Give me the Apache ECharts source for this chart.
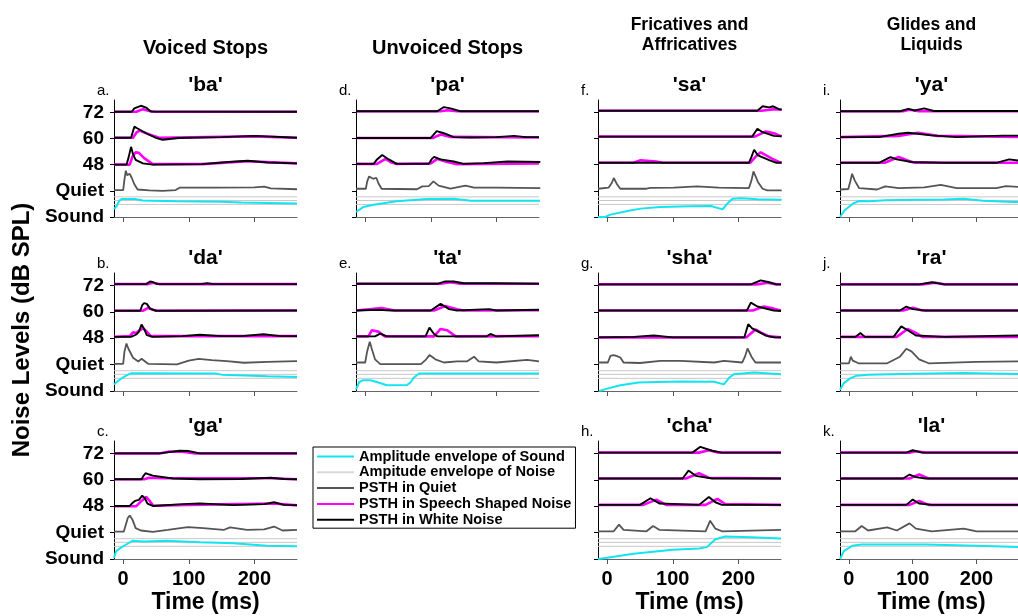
<!DOCTYPE html>
<html><head><meta charset="utf-8">
<script src="https://cdn.jsdelivr.net/npm/echarts@6/dist/echarts.min.js"></script>
<style>html,body{margin:0;padding:0;background:#fff}#c{width:1018px;height:616px}</style>
</head><body><div id="c"></div>
<script>
// ---------- tick labels / constants ----------
const yTickValues = [0, 1, 2, 3, 4];
const yTickLabels = ['Sound', 'Quiet', '48', '60', '72'];
const xTickValues = [0, 100, 200];
const noiseLevels = [0.48, 0.63, 0.77];

// ---------- data: [time ms, value above the trace's level] ----------
// 'ba'
const ba_snd = [[-14,0.30],[-10,0.42],[-6,0.62],[-2,0.69],[18,0.69],[30,0.63],[80,0.60],[150,0.58],[180,0.55],[265,0.52]];
const ba_q   = [[-14,0.03],[0,0.03],[2,0.45],[4,0.77],[6,0.6],[8,0.55],[10,0.65],[13,0.5],[17,0.25],[22,0.05],[40,0.02],[60,0.0],[80,0.03],[86,0.12],[140,0.12],[200,0.13],[215,0.16],[225,0.09],[265,0.06]];
const ba_48w = [[-14,0],[5,0],[8,0.25],[12,0.68],[15,0.4],[19,0.18],[30,0.05],[45,0],[120,0.02],[160,0.1],[190,0.15],[220,0.08],[265,0.05]];
const ba_48s = [[-14,0],[10,0],[14,0.3],[19,0.47],[24,0.45],[32,0.25],[45,0.02],[120,0.02],[190,0.13],[265,0.05]];
const ba_60w = [[-14,0.03],[12,0.03],[17,0.45],[22,0.38],[35,0.2],[50,0.02],[60,-0.05],[85,0.02],[150,0.05],[200,0.1],[265,0.03]];
const ba_60s = [[-14,0.03],[15,0.03],[20,0.22],[25,0.3],[40,0.15],[55,0.03],[200,0.08],[265,0.03]];
const ba_72w = [[-14,0.02],[13,0.02],[17,0.15],[27,0.25],[35,0.18],[42,0.03],[265,0.02]];
const ba_72s = [[-14,0.02],[20,0.02],[30,0.12],[40,0.05],[48,0.02],[265,0.02]];
// 'da'
const da_snd = [[-14,0.25],[-8,0.38],[0,0.52],[6,0.6],[12,0.67],[140,0.66],[150,0.62],[185,0.59],[220,0.56],[265,0.53]];
const da_q   = [[-14,0.03],[0,0.03],[2,0.5],[5,0.8],[8,0.6],[15,0.26],[23,0.12],[28,0.22],[38,0.03],[82,0.01],[100,0.15],[115,0.22],[135,0.17],[158,0.13],[184,0.07],[220,0.1],[265,0.13]];
const da_48w = [[-14,0.05],[12,0.05],[20,0.14],[24,0.25],[28,0.52],[32,0.35],[36,0.12],[45,0.05],[90,0.08],[117,0.13],[150,0.08],[180,0.08],[214,0.15],[240,0.08],[265,0.08]];
const da_48s = [[-14,0.05],[10,0.08],[15,0.22],[20,0.2],[30,0.38],[36,0.25],[42,0.08],[265,0.08]];
const da_60w = [[-14,0.04],[26,0.04],[29,0.25],[32,0.33],[36,0.3],[41,0.12],[50,0.04],[265,0.05]];
const da_60s = [[-14,0.04],[30,0.04],[38,0.15],[45,0.08],[52,0.04],[265,0.05]];
const da_72w = [[-14,0.05],[35,0.05],[41,0.15],[46,0.12],[52,0.05],[118,0.05],[128,0.08],[138,0.05],[265,0.05]];
const da_72s = [[-14,0.05],[38,0.05],[45,0.1],[55,0.05],[265,0.05]];
// 'ga'
const ga_snd = [[-14,0.04],[-11,0.29],[-4,0.42],[4,0.54],[14,0.69],[30,0.66],[66,0.69],[117,0.63],[168,0.6],[219,0.5],[265,0.48]];
const ga_q   = [[-14,0.04],[1,0.04],[4,0.3],[7,0.55],[10,0.65],[14,0.5],[19,0.17],[27,0.08],[45,0.03],[68,0.1],[90,0.18],[99,0.21],[122,0.17],[153,0.1],[163,0.2],[189,0.1],[215,0.12],[230,0.23],[243,0.08],[265,0.1]];
const ga_48w = [[-14,0.01],[10,0.01],[14,0.12],[18,0.2],[24,0.24],[29,0.4],[33,0.3],[37,0.1],[45,0.01],[91,0.08],[117,0.1],[168,0.04],[215,0.08],[230,0.15],[245,0.05],[265,0.04]];
const ga_48s = [[-14,0.0],[20,0.0],[28,0.2],[35,0.35],[41,0.18],[46,0.02],[100,0.05],[230,0.1],[265,0.03]];
const ga_60w = [[-14,0.02],[28,0.02],[31,0.15],[34,0.25],[40,0.2],[45,0.16],[76,0.05],[117,0.02],[180,0.03],[225,0.08],[245,0.03],[265,0.02]];
const ga_60s = [[-14,0.02],[32,0.02],[40,0.08],[60,0.06],[140,0.06],[225,0.06],[265,0.02]];
const ga_72w = [[-14,0.0],[55,0.0],[70,0.05],[86,0.1],[99,0.09],[117,0.0],[265,0.0]];
const ga_72s = [[-14,0.0],[55,0.0],[71,0.07],[90,0.06],[110,0.0],[265,0.0]];
// 'pa'
const pa_snd = [[-14,0.19],[-3,0.38],[13,0.47],[48,0.6],[94,0.69],[135,0.7],[161,0.62],[267,0.62]];
const pa_q   = [[-14,0.08],[1,0.08],[3,0.35],[6,0.55],[9,0.5],[12,0.46],[17,0.5],[20,0.3],[25,0.08],[79,0.06],[87,0.17],[97,0.18],[104,0.36],[112,0.2],[130,0.08],[153,0.2],[166,0.12],[200,0.12],[267,0.1]];
const pa_48w = [[-14,0.03],[13,0.03],[18,0.2],[26,0.37],[36,0.2],[48,0.03],[97,0.03],[101,0.2],[105,0.3],[115,0.2],[135,0.12],[150,0.03],[181,0.06],[217,0.12],[267,0.1]];
const pa_48s = [[-14,0.03],[18,0.03],[31,0.22],[40,0.08],[48,0.03],[100,0.05],[110,0.22],[125,0.1],[140,0.02],[265,0.05]];
const pa_60w = [[-14,0.02],[100,0.02],[109,0.28],[120,0.2],[135,0.05],[160,0.04],[200,0.05],[227,0.1],[245,0.05],[265,0.05]];
const pa_60s = [[-14,0.02],[103,0.02],[115,0.15],[130,0.06],[265,0.04]];
const pa_72w = [[-14,0.04],[110,0.04],[120,0.2],[130,0.15],[145,0.04],[265,0.04]];
const pa_72s = [[-14,0.04],[115,0.04],[125,0.08],[140,0.04],[265,0.04]];
// 'ta'
const ta_snd = [[-14,0.06],[-9,0.34],[-3,0.41],[8,0.41],[20,0.32],[33,0.22],[64,0.23],[69,0.32],[74,0.5],[82,0.66],[265,0.66]];
const ta_q   = [[-14,0.08],[0,0.08],[3,0.5],[7,0.87],[10,0.6],[15,0.2],[23,0.02],[85,0.02],[93,0.2],[98,0.36],[107,0.2],[120,0.08],[140,0.12],[155,0.12],[166,0.3],[173,0.12],[200,0.08],[247,0.18],[265,0.12]];
const ta_48w = [[-14,0.07],[15,0.07],[23,0.17],[33,0.07],[92,0.07],[98,0.4],[105,0.16],[110,0.07],[185,0.07],[191,0.16],[200,0.07],[265,0.11]];
const ta_48s = [[-14,0.07],[5,0.07],[10,0.3],[20,0.25],[30,0.07],[105,0.07],[115,0.35],[125,0.3],[138,0.07],[265,0.08]];
const ta_60w = [[-14,0.05],[20,0.08],[40,0.05],[100,0.05],[115,0.3],[128,0.1],[140,0.05],[189,0.1],[200,0.05],[265,0.08]];
const ta_60s = [[-14,0.05],[25,0.14],[45,0.05],[105,0.05],[122,0.22],[140,0.1],[150,0.05],[265,0.06]];
const ta_72w = [[-14,0.06],[110,0.06],[122,0.15],[135,0.15],[150,0.08],[196,0.08],[265,0.06]];
const ta_72s = [[-14,0.06],[115,0.06],[130,0.12],[145,0.06],[265,0.06]];
// 'sa'
const sa_snd = [[-14,0],[-3,0],[5,0.09],[31,0.23],[51,0.32],[81,0.38],[127,0.41],[158,0.42],[176,0.29],[183,0.51],[191,0.7],[204,0.72],[229,0.68],[266,0.66]];
const sa_q   = [[-14,0.08],[2,0.12],[7,0.3],[10,0.49],[15,0.25],[20,0.08],[60,0.08],[66,0.11],[102,0.12],[137,0.17],[170,0.12],[216,0.1],[220,0.4],[223,0.74],[230,0.33],[237,0.08],[244,0.02],[266,0.02]];
const sa_48w = [[-14,0.07],[216,0.07],[220,0.3],[224,0.57],[230,0.35],[247,0.17],[258,0.07],[266,0.07]];
const sa_48s = [[-14,0.07],[40,0.07],[51,0.17],[75,0.12],[85,0.07],[218,0.07],[228,0.35],[234,0.47],[252,0.22],[262,0.1],[266,0.08]];
const sa_60w = [[-14,0.07],[221,0.07],[229,0.37],[237,0.24],[254,0.1],[266,0.08]];
const sa_60s = [[-14,0.07],[225,0.07],[242,0.27],[254,0.2],[266,0.08]];
const sa_72w = [[-14,0.06],[229,0.06],[237,0.23],[247,0.19],[253,0.23],[262,0.12],[266,0.1]];
const sa_72s = [[-14,0.06],[235,0.06],[255,0.12],[266,0.1]];
// 'sha'
const sha_snd = [[-12,0],[0,0.09],[20,0.22],[48,0.32],[76,0.34],[112,0.36],[163,0.35],[178,0.25],[186,0.51],[193,0.63],[224,0.7],[265,0.63]];
const sha_q   = [[-14,0.08],[1,0.08],[5,0.33],[10,0.36],[15,0.32],[20,0.27],[25,0.08],[50,0.06],[81,0.14],[112,0.14],[163,0.08],[178,0.14],[206,0.08],[210,0.3],[214,0.61],[220,0.3],[226,0.08],[265,0.08]];
const sha_48w = [[-14,0.03],[40,0.05],[71,0.1],[100,0.03],[209,0.03],[215,0.53],[221,0.37],[242,0.1],[255,0.03],[265,0.03]];
const sha_48s = [[-14,0.03],[212,0.03],[226,0.33],[234,0.22],[247,0.07],[265,0.03]];
const sha_60w = [[-14,0.05],[213,0.05],[219,0.35],[229,0.2],[254,0.05],[265,0.03]];
const sha_60s = [[-14,0.05],[222,0.05],[239,0.2],[254,0.12],[265,0.05]];
const sha_72w = [[-14,0.04],[219,0.04],[234,0.19],[247,0.12],[258,0.04],[265,0.04]];
const sha_72s = [[-14,0.04],[228,0.04],[245,0.1],[258,0.04],[265,0.04]];
// 'cha'
const cha_snd = [[-14,0],[0,0.05],[40,0.2],[100,0.35],[140,0.4],[152,0.45],[165,0.75],[180,0.85],[220,0.82],[265,0.78]];
const cha_q   = [[-14,0.05],[10,0.05],[18,0.3],[25,0.1],[60,0.05],[70,0.25],[80,0.1],[150,0.05],[157,0.45],[165,0.15],[175,0.05],[265,0.1]];
const cha_48w = [[-14,0.05],[50,0.05],[66,0.3],[80,0.1],[140,0.05],[155,0.35],[165,0.15],[175,0.05],[265,0.05]];
const cha_48s = [[-14,0.05],[55,0.05],[75,0.25],[90,0.05],[150,0.05],[168,0.28],[180,0.08],[265,0.05]];
const cha_60w = [[-14,0.05],[115,0.05],[124,0.35],[135,0.15],[160,0.05],[265,0.05]];
const cha_60s = [[-14,0.05],[120,0.05],[140,0.25],[155,0.08],[265,0.05]];
const cha_72w = [[-14,0.03],[130,0.03],[142,0.25],[160,0.1],[175,0.03],[265,0.03]];
const cha_72s = [[-14,0.03],[140,0.03],[155,0.12],[170,0.03],[265,0.03]];
// 'ya'
const ya_snd = [[-14,0],[-7,0.25],[6,0.51],[16,0.61],[32,0.6],[57,0.64],[103,0.66],[149,0.67],[180,0.7],[210,0.62],[258,0.57],[265,0.57]];
const ya_q   = [[-14,0.05],[-1,0.07],[2,0.35],[5,0.65],[9,0.4],[16,0.1],[44,0.05],[57,0.17],[78,0.1],[118,0.13],[144,0.23],[169,0.1],[231,0.1],[246,0.18],[265,0.15]];
const ya_48w = [[-14,0.07],[47,0.07],[65,0.29],[75,0.2],[98,0.1],[150,0.07],[231,0.07],[251,0.2],[265,0.16]];
const ya_48s = [[-14,0.07],[56,0.07],[78,0.29],[93,0.15],[103,0.07],[265,0.07]];
const ya_60w = [[-14,0.05],[47,0.05],[78,0.18],[93,0.22],[129,0.12],[169,0.05],[241,0.11],[265,0.11]];
const ya_60s = [[-14,0.05],[78,0.1],[108,0.22],[139,0.1],[265,0.06]];
const ya_72w = [[-14,0.04],[80,0.04],[93,0.13],[103,0.07],[118,0.15],[133,0.05],[265,0.05]];
const ya_72s = [[-14,0.04],[85,0.04],[95,0.1],[110,0.04],[265,0.04]];
// 'ra'
const ra_snd = [[-14,0.05],[-8,0.3],[2,0.48],[12,0.58],[30,0.62],[100,0.65],[180,0.68],[220,0.66],[265,0.64]];
const ra_q   = [[-14,0.05],[0,0.05],[3,0.3],[6,0.15],[15,0.05],[60,0.05],[80,0.3],[90,0.6],[98,0.5],[110,0.2],[125,0.05],[200,0.1],[265,0.12]];
const ra_48w = [[-14,0.05],[10,0.05],[18,0.2],[25,0.05],[70,0.05],[82,0.45],[92,0.3],[105,0.1],[150,0.05],[265,0.1]];
const ra_48s = [[-14,0.05],[75,0.05],[92,0.35],[105,0.2],[115,0.05],[265,0.05]];
const ra_60w = [[-14,0.05],[80,0.05],[90,0.2],[100,0.1],[120,0.05],[265,0.05]];
const ra_60s = [[-14,0.05],[85,0.05],[100,0.15],[115,0.05],[265,0.05]];
const ra_72w = [[-14,0.04],[110,0.04],[130,0.12],[150,0.04],[265,0.04]];
const ra_72s = [[-14,0.04],[115,0.04],[135,0.1],[150,0.04],[265,0.04]];
// 'la'
const la_snd = [[-14,0],[-8,0.3],[5,0.5],[20,0.55],[120,0.55],[200,0.5],[265,0.45]];
const la_q   = [[-14,0.05],[10,0.05],[20,0.25],[30,0.08],[60,0.2],[75,0.08],[95,0.35],[105,0.15],[130,0.05],[180,0.15],[200,0.05],[265,0.05]];
const la_48w = [[-14,0.05],[90,0.05],[100,0.25],[110,0.1],[130,0.05],[265,0.05]];
const la_48s = [[-14,0.05],[95,0.05],[110,0.2],[125,0.05],[265,0.05]];
const la_60w = [[-14,0.05],[85,0.05],[95,0.2],[105,0.1],[120,0.05],[265,0.05]];
const la_60s = [[-14,0.05],[95,0.05],[110,0.2],[125,0.05],[265,0.05]];
const la_72w = [[-14,0.03],[90,0.03],[100,0.12],[115,0.03],[265,0.03]];
const la_72s = [[-14,0.03],[95,0.03],[105,0.08],[120,0.03],[265,0.03]];

// ---------- panel definitions ----------
const panels = [
  {title:"'ba'",  letter:'a.', col:0, row:0, snd:ba_snd,  q:ba_q,  s:[ba_48s,ba_60s,ba_72s],   w:[ba_48w,ba_60w,ba_72w]},
  {title:"'da'",  letter:'b.', col:0, row:1, snd:da_snd,  q:da_q,  s:[da_48s,da_60s,da_72s],   w:[da_48w,da_60w,da_72w]},
  {title:"'ga'",  letter:'c.', col:0, row:2, snd:ga_snd,  q:ga_q,  s:[ga_48s,ga_60s,ga_72s],   w:[ga_48w,ga_60w,ga_72w]},
  {title:"'pa'",  letter:'d.', col:1, row:0, snd:pa_snd,  q:pa_q,  s:[pa_48s,pa_60s,pa_72s],   w:[pa_48w,pa_60w,pa_72w]},
  {title:"'ta'",  letter:'e.', col:1, row:1, snd:ta_snd,  q:ta_q,  s:[ta_48s,ta_60s,ta_72s],   w:[ta_48w,ta_60w,ta_72w]},
  {title:"'sa'",  letter:'f.', col:2, row:0, snd:sa_snd,  q:sa_q,  s:[sa_48s,sa_60s,sa_72s],   w:[sa_48w,sa_60w,sa_72w]},
  {title:"'sha'", letter:'g.', col:2, row:1, snd:sha_snd, q:sha_q, s:[sha_48s,sha_60s,sha_72s],w:[sha_48w,sha_60w,sha_72w]},
  {title:"'cha'", letter:'h.', col:2, row:2, snd:cha_snd, q:cha_q, s:[cha_48s,cha_60s,cha_72s],w:[cha_48w,cha_60w,cha_72w]},
  {title:"'ya'",  letter:'i.', col:3, row:0, snd:ya_snd,  q:ya_q,  s:[ya_48s,ya_60s,ya_72s],   w:[ya_48w,ya_60w,ya_72w]},
  {title:"'ra'",  letter:'j.', col:3, row:1, snd:ra_snd,  q:ra_q,  s:[ra_48s,ra_60s,ra_72s],   w:[ra_48w,ra_60w,ra_72w]},
  {title:"'la'",  letter:'k.', col:3, row:2, snd:la_snd,  q:la_q,  s:[la_48s,la_60s,la_72s],   w:[la_48w,la_60w,la_72w]}
];
const columnTitles = [['Voiced Stops'], ['Unvoiced Stops'], ['Fricatives and', 'Affricatives'], ['Glides and', 'Liquids']];

// ---------- layout ----------
const FONT = '"Liberation Sans", Arial, Helvetica, sans-serif';
const colLeft = [114, 356, 598, 840];
const rowTop = [100, 273, 441];
const rowBottom = [217, 391, 559];
const PW = 183;
const X_MIN = -14, X_MAX = 265, Y_MAX = 4.47;

const C_SND = '#12e4f0', C_NOISE = '#c8c8c8', C_Q = '#555555', C_S = '#ff00ff', C_W = '#000000';
const NAME_SND = 'Amplitude envelope of Sound';
const NAME_NOISE = 'Ampitude envelope of Noise';
const NAME_Q = 'PSTH in Quiet';
const NAME_S = 'PSTH in Speech Shaped Noise';
const NAME_W = 'PSTH in White Noise';

const grid = [], xAxis = [], yAxis = [], series = [], graphic = [];
const shift = (arr, base) => arr.map(p => [p[0], base + p[1]]);

panels.forEach((p, i) => {
  const left = colLeft[p.col], top = rowTop[p.row], h = rowBottom[p.row] - rowTop[p.row];
  grid.push({left: left, top: top, width: PW, height: h});
  xAxis.push({
    gridIndex: i, type: 'value', min: X_MIN, max: X_MAX,
    axisLine: {show: true, onZero: false, lineStyle: {color: '#666', width: 1}},
    axisTick: {show: true, customValues: xTickValues, length: 5, lineStyle: {color: '#555', width: 1}},
    axisLabel: {show: p.row === 2, customValues: xTickValues, margin: 10, color: '#000',
                fontFamily: FONT, fontWeight: 'bold', fontSize: 20},
    splitLine: {show: false}
  });
  yAxis.push({
    gridIndex: i, type: 'value', min: 0, max: Y_MAX,
    axisLine: {show: true, onZero: false, lineStyle: {color: '#000', width: 1}},
    axisTick: {show: true, customValues: yTickValues, length: 4, lineStyle: {color: '#000', width: 1}},
    axisLabel: {show: p.col === 0, customValues: yTickValues, margin: 10, color: '#000',
                fontFamily: FONT, fontWeight: 'bold', fontSize: 19,
                formatter: v => yTickLabels[Math.round(v)]},
    splitLine: {show: false}
  });
  const common = {type: 'line', xAxisIndex: i, yAxisIndex: i, symbol: 'none', showSymbol: false,
                  animation: false, silent: true};
  noiseLevels.forEach(lv => {
    series.push(Object.assign({}, common, {name: NAME_NOISE, z: 1,
      data: [[X_MIN, lv], [X_MAX, lv]], itemStyle: {color: C_NOISE}, lineStyle: {color: C_NOISE, width: 1}}));
  });
  series.push(Object.assign({}, common, {name: NAME_SND, z: 2, data: p.snd,
    itemStyle: {color: C_SND}, lineStyle: {color: C_SND, width: 2}}));
  series.push(Object.assign({}, common, {name: NAME_Q, z: 3, data: shift(p.q, 1),
    itemStyle: {color: C_Q}, lineStyle: {color: C_Q, width: 1.8}}));
  p.s.forEach((arr, k) => series.push(Object.assign({}, common, {name: NAME_S, z: 4,
    data: shift(arr, k + 2), itemStyle: {color: C_S}, lineStyle: {color: C_S, width: 2.6}})));
  p.w.forEach((arr, k) => series.push(Object.assign({}, common, {name: NAME_W, z: 5,
    data: shift(arr, k + 2), itemStyle: {color: C_W}, lineStyle: {color: C_W, width: 1.9}})));

  graphic.push({type: 'text', x: left + PW / 2, y: top - 15, silent: true,
    style: {text: p.title, font: 'bold 21px ' + FONT, fill: '#000', align: 'center', verticalAlign: 'middle'}});
  graphic.push({type: 'text', x: left - 17, y: top - 9, silent: true,
    style: {text: p.letter, font: '15px ' + FONT, fill: '#000', align: 'left', verticalAlign: 'middle'}});
});

columnTitles.forEach((lines, c) => {
  const cx = colLeft[c] + PW / 2;
  const one = lines.length === 1;
  const ys = one ? [48] : [25, 45];
  lines.forEach((t, k) => graphic.push({type: 'text', x: cx, y: ys[k], silent: true,
    style: {text: t, font: 'bold ' + (one ? 20 : 17.5) + 'px ' + FONT, fill: '#000', align: 'center', verticalAlign: 'middle'}}));
});
[0, 2, 3].forEach(c => graphic.push({type: 'text', x: colLeft[c] + PW / 2, y: 603, silent: true,
  style: {text: 'Time (ms)', font: 'bold 23px ' + FONT, fill: '#000', align: 'center', verticalAlign: 'middle'}}));
graphic.push({type: 'text', x: 22, y: 330, rotation: Math.PI / 2, silent: true,
  style: {text: 'Noise Levels (dB SPL)', font: 'bold 24px ' + FONT, fill: '#000', align: 'center', verticalAlign: 'middle'}});

const legendItem = (name, color) => ({name: name, icon: 'rect', itemStyle: {color: color, borderWidth: 0}});
const chart = echarts.init(document.getElementById('c'), null, {renderer: 'canvas'});
chart.setOption({
  backgroundColor: '#fff',
  animation: false,
  grid: grid, xAxis: xAxis, yAxis: yAxis, series: series, graphic: graphic,
  legend: {
    data: [legendItem(NAME_SND, C_SND), legendItem(NAME_NOISE, '#d8d8d8'), legendItem(NAME_Q, C_Q),
           legendItem(NAME_S, C_S), legendItem(NAME_W, C_W)],
    orient: 'vertical', left: 313, top: 447, selectedMode: false,
    itemWidth: 37, itemHeight: 2, itemGap: 0.8, padding: [2, 4, 1, 4],
    borderColor: '#000', borderWidth: 1, borderRadius: 0,
    textStyle: {fontFamily: FONT, fontWeight: 'bold', fontSize: 14.6, color: '#000', lineHeight: 14}
  }
});
</script>
</body></html>
